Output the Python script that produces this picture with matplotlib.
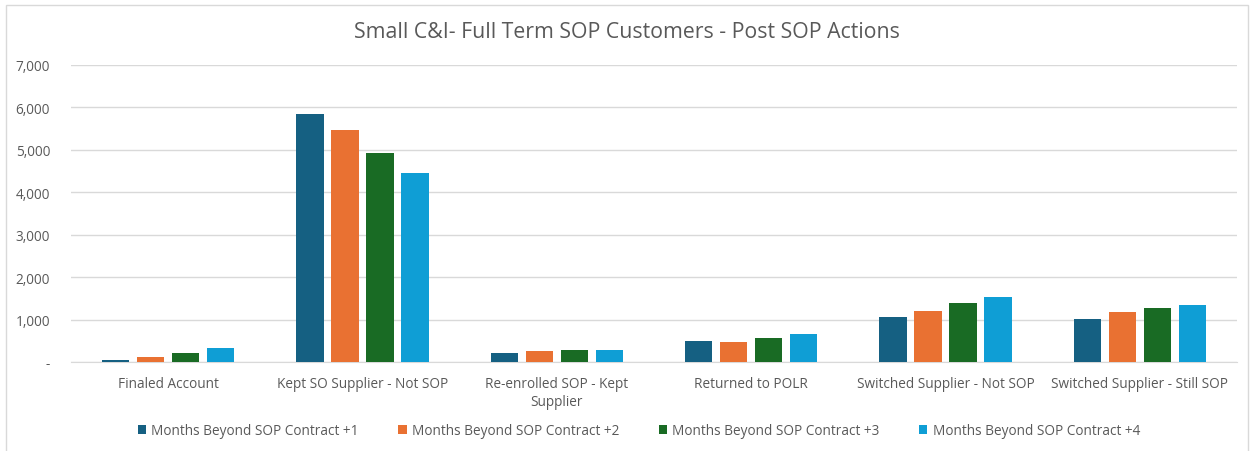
import matplotlib.pyplot as plt
import numpy as np
from matplotlib.patches import Rectangle
from matplotlib.ticker import FuncFormatter

# datos
categorias = ['Finaled Account', 'Kept SO Supplier - Not SOP', 'Re-enrolled SOP - Kept\nSupplier',
              'Returned to POLR', 'Switched Supplier - Not SOP', 'Switched Supplier - Still SOP']
series = ['Months Beyond SOP Contract +1', 'Months Beyond SOP Contract +2',
          'Months Beyond SOP Contract +3', 'Months Beyond SOP Contract +4']
mes_1 = [50, 5850, 205, 495, 1050, 1020]
mes_2 = [125, 5470, 260, 465, 1195, 1170]
mes_3 = [210, 4920, 292, 575, 1400, 1280]
mes_4 = [330, 4460, 292, 670, 1540, 1340]
colores = ['#156082', '#E97132', '#196B24', '#0F9ED5']

plt.rcParams['font.family'] = ['Open Sans', 'DejaVu Sans']
gris = '#595959'

fig = plt.figure(figsize=(12.53, 4.52), dpi=100)
ax = fig.add_axes([71 / 1253, 1 - 363 / 452, (1237 - 71) / 1253, (363 - 66) / 452])

x = np.arange(len(categorias))
paso = 0.18
ancho = 0.14
for i, valores in enumerate([mes_1, mes_2, mes_3, mes_4]):
    ax.bar(x + (i - 1.5) * paso, valores, ancho, color=colores[i], label=series[i], zorder=3)

ax.set_xlim(-0.5, len(categorias) - 0.5)
ax.set_ylim(0, 7000)
ax.set_yticks(range(0, 7001, 1000))
ax.yaxis.set_major_formatter(FuncFormatter(lambda v, p: '-' if v == 0 else f'{int(v):,}'))
ax.grid(axis='y', color='#d9d9d9', linewidth=1, zorder=0)
ax.set_xticks(x)
ax.set_xticklabels(categorias, fontsize=9.8, color=gris, linespacing=1.3)
ax.tick_params(axis='both', length=0, colors=gris, labelsize=9.8)
ax.tick_params(axis='x', pad=10)
ax.tick_params(axis='y', pad=15)
for lado in ['top', 'right', 'left']:
    ax.spines[lado].set_visible(False)
ax.spines['bottom'].set_color('#d9d9d9')

fig.text(0.5, 1 - 33 / 452, 'Small C&I- Full Term SOP Customers - Post SOP Actions',
         ha='center', va='center', fontsize=15.3, color=gris)

fig.legend(loc='center', bbox_to_anchor=(639 / 1253, 1 - 432 / 452), ncol=4, frameon=False,
           fontsize=9.8, labelcolor=gris, handlelength=0.6, handleheight=0.6,
           handletextpad=0.4, columnspacing=2.9)

# marco exterior del grafico
fig.patches.append(Rectangle((6 / 1253, -0.05), 1242 / 1253, 1.05 - 6 / 452,
                             transform=fig.transFigure, fill=False, edgecolor='#d9d9d9', linewidth=1))

fig.savefig('out.png', dpi=100)
